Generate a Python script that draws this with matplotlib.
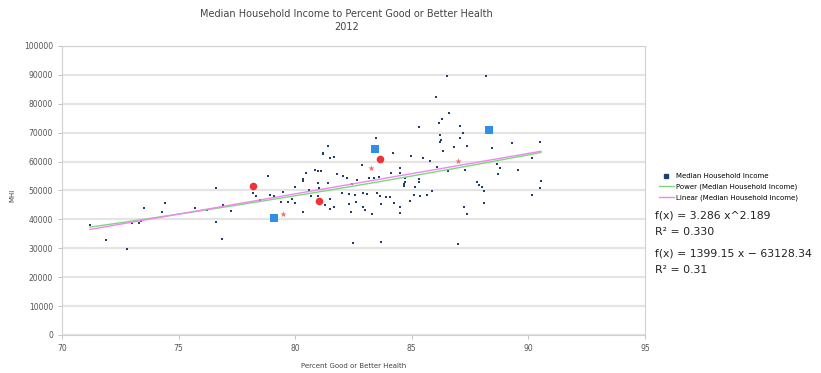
import numpy as np
import matplotlib
matplotlib.use("Agg")
import matplotlib.pyplot as plt
from matplotlib.lines import Line2D

# Percent good or better health vs median household income
health = [71.2, 71.9, 72.8, 73.0, 73.3, 73.4, 73.5, 74.3, 74.4, 75.7,
          76.2, 76.6, 76.6, 76.9, 76.85, 77.25, 78.2, 78.3, 78.5, 78.85,
          78.9, 79.1, 79.4, 79.5, 79.7, 79.85, 80.0, 80.0, 80.35, 80.35,
          80.35, 80.46, 80.6, 80.7, 80.86, 80.97, 81.1, 81.0, 81.04, 81.0,
          81.2, 81.4, 81.5, 81.65, 81.2, 81.8, 81.43, 81.26, 81.5, 81.5,
          81.65, 82.0, 82.06, 82.24, 82.3, 82.3, 82.4, 82.43, 82.55, 82.65,
          82.6, 82.5, 82.86, 82.9, 83.0, 82.93, 83.1, 83.15, 83.3, 83.4,
          83.48, 83.5, 83.6, 83.65, 83.67, 83.68, 83.9, 84.08, 84.1, 84.2,
          84.26, 84.5, 84.5, 84.5, 84.5, 84.65, 84.65, 84.7, 84.7, 84.94,
          84.98, 85.1, 85.15, 85.3, 85.3, 85.3, 85.36, 85.5, 85.65, 85.8,
          85.86, 86.03, 86.1, 86.15, 86.2, 86.25, 86.2, 86.3, 86.34, 86.5,
          86.55, 86.58, 86.8, 86.97, 87.08, 87.2, 87.08, 87.23, 87.3, 87.35,
          87.35, 87.8, 87.87, 88.0, 88.08, 88.08, 88.2, 88.44, 88.66, 88.68,
          88.77, 89.3, 89.54, 90.16, 90.16, 90.5, 90.54, 90.5]
mhi = [38000, 32900, 29800, 38600, 38800, 39500, 43800, 42400, 45600, 43800,
       43300, 51000, 39200, 44900, 33200, 43000, 49000, 48100, 46700, 55100,
       48400, 48100, 46100, 49300, 46100, 46900, 45600, 51100, 42500, 53900,
       53400, 55900, 50200, 48100, 57100, 56800, 56600, 52700, 50800, 48200,
       62900, 65400, 61100, 61500, 62600, 55600, 52500, 45000, 43500, 46900,
       44400, 49000, 55100, 54200, 48800, 45300, 42700, 52100, 48300, 53600,
       45900, 31700, 58900, 44100, 43200, 49200, 48800, 54200, 41900, 54200,
       68100, 49200, 54800, 47900, 45300, 32100, 47600, 47600, 55900, 62900,
       45800, 57700, 55900, 44400, 42100, 52300, 51600, 54200, 52900, 46500,
       61900, 48400, 51300, 71800, 54000, 53000, 47900, 61300, 48400, 60200,
       49900, 82200, 58200, 73200, 69200, 67500, 66900, 74600, 63800, 89600,
       56800, 76700, 64900, 31400, 72300, 70000, 68000, 44400, 57100, 65400,
       41900, 53000, 51900, 51300, 49900, 45800, 89600, 64600, 59200, 55700,
       57700, 66300, 56900, 61100, 48400, 66900, 53300, 51000]

# highlighted points
circle_x = [78.2, 81.04, 83.65]
circle_y = [51500, 46200, 60900]
square_x = [79.1, 83.43, 88.33]
square_y = [40300, 64400, 70900]
star_x = [79.5, 83.26, 87.0]
star_y = [41700, 57800, 60200]

# trend line coefficients as printed on the chart
pow_a, pow_b = 3.286, 2.189
lin_m, lin_c = 1399.15, -63128.34

fig = plt.figure(figsize=(8.21, 3.73), dpi=100)
ax = fig.add_axes([0.0755, 0.102, 0.710, 0.775])

ax.set_xlim(70, 95)
ax.set_ylim(0, 100000)
ax.set_xticks([70, 75, 80, 85, 90, 95])
ax.set_yticks(np.arange(0, 100001, 10000))
ax.yaxis.grid(True, color="#e4e4e4", linewidth=1.6)
ax.set_axisbelow(True)
for s in ax.spines.values():
    s.set_color("#d0d0d0")
    s.set_linewidth(0.8)
ax.tick_params(labelsize=5.5, colors="#b8b8b8", labelcolor="#555555", length=3, width=0.6)

ax.scatter(health, mhi, s=3, color="#1f3f6e", marker="s", linewidths=0, zorder=3)

xs = np.linspace(min(health), max(health), 100)
ax.plot(xs, pow_a * xs ** pow_b, color="#7fd67f", linewidth=1.0, zorder=4)
ax.plot(xs, lin_m * xs + lin_c, color="#ee88ee", linewidth=1.0, zorder=4)

ax.scatter(circle_x, circle_y, s=30, color="#ee3333", marker="o", linewidths=0, zorder=5)
ax.scatter(square_x, square_y, s=30, color="#2f8fe6", marker="s", linewidths=0, zorder=5)
ax.scatter(star_x, star_y, s=22, color="#f07070", marker="*", linewidths=0, zorder=5)

ax.set_xlabel("Percent Good or Better Health", fontsize=5, color="#444444", labelpad=7)
fig.text(12 / 821, 1 - 195 / 373, "MHI", rotation=90, fontsize=5, color="#444444",
         ha="center", va="center")

fig.text(0.422, 0.963, "Median Household Income to Percent Good or Better Health",
         ha="center", va="center", fontsize=7, color="#444444")
fig.text(0.422, 0.928, "2012", ha="center", va="center", fontsize=7, color="#444444")

handles = [Line2D([], [], marker="s", linestyle="none", color="#1f3f6e", markersize=3),
           Line2D([], [], color="#7fd67f", linewidth=1.0),
           Line2D([], [], color="#ee88ee", linewidth=1.0)]
labels = ["Median Household Income", "Power (Median Household Income)",
          "Linear (Median Household Income)"]
fig.legend(handles, labels, loc="upper left", bbox_to_anchor=(0.798, 0.545),
           frameon=False, fontsize=5, handlelength=2.2, handletextpad=0.3,
           labelspacing=0.65, borderpad=0)

eq_x = 655 / 821
fig.text(eq_x, 1 - 215 / 373, "f(x) = 3.286 x^2.189", fontsize=7.8, color="#222222", va="center")
fig.text(eq_x, 1 - 232 / 373, "R² = 0.330", fontsize=7.8, color="#222222", va="center")
fig.text(eq_x, 1 - 253 / 373, "f(x) = 1399.15 x − 63128.34", fontsize=7.8, color="#222222", va="center")
fig.text(eq_x, 1 - 270 / 373, "R² = 0.31", fontsize=7.8, color="#222222", va="center")

fig.savefig("out.png", dpi=100)
